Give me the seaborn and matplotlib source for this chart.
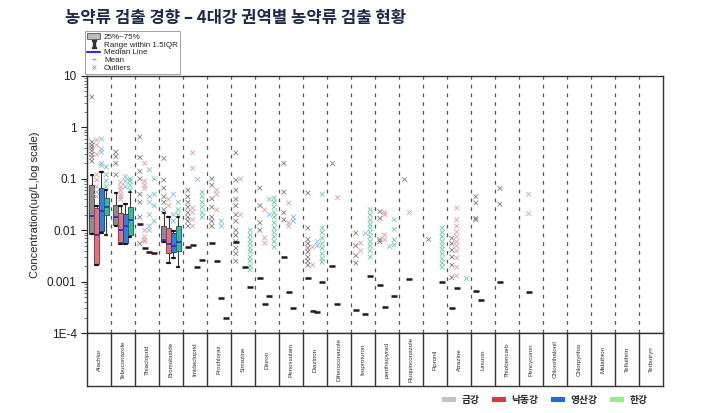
import numpy as np
import pandas as pd
import matplotlib
matplotlib.use("Agg")
import matplotlib.pyplot as plt
import matplotlib.colors as mcolors
from matplotlib.lines import Line2D
from matplotlib.patches import Patch
import matplotlib.ticker as mticker
import seaborn as sns

# ---------------- data ----------------
categories = ["Alachlor", "Tebuconazole", "Thiacloprid", "Bromobutide", "Imidacloprid",
              "Prochloraz", "Simazine", "Diuron", "Penoxsulam", "Diazinon",
              "Difenoconazole", "Isoproturon", "penthiopyrad", "Fluquinconazole",
              "Fipronil", "Atrazine", "Linuron", "Thiobencarb", "Pencycuron",
              "Chlorothalonil", "Chlorpyrifos", "Malathion", "Tefluthrin", "Terbutryn"]
rivers = ["금강", "낙동강", "영산강", "한강"]

# five-number summaries [min, q1, median, q3, max] (ug/L)
box_geum = {"Alachlor": [0.0085, 0.0086, 0.019, 0.076, 0.117],
            "Tebuconazole": [0.012, 0.0125, 0.018, 0.031, 0.052],
            "Bromobutide": [0.0058, 0.006, 0.0065, 0.012, 0.022]}
box_nakdong = {"Alachlor": [0.0021, 0.0022, 0.008, 0.027, 0.029],
               "Tebuconazole": [0.0055, 0.006, 0.01, 0.022, 0.03],
               "Bromobutide": [0.0023, 0.0036, 0.0055, 0.011, 0.018]}
box_yeongsan = {"Alachlor": [0.009, 0.0095, 0.024, 0.065, 0.135],
                "Tebuconazole": [0.0054, 0.0056, 0.012, 0.021, 0.033],
                "Bromobutide": [0.0029, 0.0038, 0.005, 0.0087, 0.0098]}
box_han = {"Alachlor": [0.008, 0.02, 0.028, 0.042, 0.06],
           "Tebuconazole": [0.0075, 0.008, 0.016, 0.028, 0.055],
           "Bromobutide": [0.0019, 0.004, 0.006, 0.012, 0.018]}

# single-value groups (drawn as short dark bars)
single_geum = {"Thiacloprid": 0.013, "Imidacloprid": 0.0047, "Prochloraz": 0.0056,
               "Simazine": 0.006, "Diuron": 0.0012, "Penoxsulam": 0.003,
               "Diazinon": 0.0012, "Difenoconazole": 0.002, "Isoproturon": 0.00028,
               "penthiopyrad": 0.00087, "Atrazine": 0.00031, "Linuron": 0.00067,
               "Thiobencarb": 0.001}
single_nakdong = {"Thiacloprid": 0.0045, "Imidacloprid": 0.0051, "Prochloraz": 0.0025,
                  "Diuron": 0.00037, "Penoxsulam": 0.00062, "Diazinon": 0.00027,
                  "Difenoconazole": 0.00037, "penthiopyrad": 0.00032,
                  "Fluquinconazole": 0.0011, "Atrazine": 0.00075, "Linuron": 0.00044,
                  "Pencycuron": 0.00062}
single_yeongsan = {"Thiacloprid": 0.0038, "Imidacloprid": 0.0019, "Prochloraz": 0.00048,
                   "Simazine": 0.0019, "Diuron": 0.00053, "Penoxsulam": 0.0003,
                   "Diazinon": 0.00026, "Isoproturon": 0.00023}
single_han = {"Thiacloprid": 0.0036, "Imidacloprid": 0.0026, "Prochloraz": 0.0002,
              "Simazine": 0.00078, "Diazinon": 0.001, "Isoproturon": 0.0013,
              "penthiopyrad": 0.00052, "Fipronil": 0.001}

# outliers
out_geum = {"Alachlor": [3.9, 0.52, 0.45, 0.4, 0.35, 0.3, 0.26, 0.22],
            "Tebuconazole": [0.33, 0.27, 0.2, 0.12],
            "Thiacloprid": [0.65, 0.26, 0.14, 0.1, 0.05, 0.035, 0.018, 0.0055],
            "Bromobutide": [0.25, 0.095, 0.066, 0.045, 0.035, 0.025],
            "Imidacloprid": [0.06, 0.045, 0.035, 0.028, 0.022, 0.018, 0.015, 0.012],
            "Prochloraz": [0.1, 0.075, 0.041, 0.028, 0.018, 0.015, 0.012],
            "Simazine": [0.32, 0.094, 0.06, 0.04, 0.03, 0.02, 0.015, 0.01, 0.008,
                         0.006, 0.0045, 0.0035, 0.0025],
            "Diuron": [0.066, 0.03, 0.014, 0.01],
            "Penoxsulam": [0.2, 0.055, 0.022, 0.016],
            "Diazinon": [0.053, 0.011, 0.0066, 0.0055, 0.0045, 0.0038, 0.003, 0.0025, 0.0021],
            "Difenoconazole": [0.2],
            "Isoproturon": [0.0088, 0.005, 0.0032, 0.0023],
            "penthiopyrad": [0.023, 0.017, 0.0066, 0.006],
            "Fluquinconazole": [0.1],
            "Fipronil": [0.0068],
            "Atrazine": [0.007, 0.0055, 0.0041, 0.003, 0.0021, 0.0012],
            "Linuron": [0.045, 0.034, 0.017, 0.016],
            "Thiobencarb": [0.065, 0.032]}
out_nakdong = {"Alachlor": [0.57, 0.45, 0.3, 0.12, 0.095, 0.07, 0.055, 0.045],
               "Tebuconazole": [0.085, 0.07, 0.06, 0.05, 0.045, 0.04],
               "Thiacloprid": [0.2, 0.09, 0.075, 0.065, 0.01, 0.0075, 0.0065, 0.006],
               "Bromobutide": [0.04, 0.03],
               "Imidacloprid": [0.32, 0.16, 0.027, 0.022, 0.016, 0.012],
               "Prochloraz": [0.06, 0.05, 0.025],
               "Simazine": [0.1, 0.02],
               "Diuron": [0.025, 0.0071, 0.0056],
               "Penoxsulam": [0.034, 0.014, 0.012],
               "Diazinon": [0.0047, 0.0021],
               "Difenoconazole": [0.045],
               "Isoproturon": [0.0056, 0.004],
               "penthiopyrad": [0.022, 0.02, 0.008, 0.0065],
               "Fluquinconazole": [0.023],
               "Atrazine": [0.027, 0.016, 0.012, 0.0093, 0.0075, 0.006, 0.005, 0.004,
                            0.0029, 0.0019, 0.0013],
               "Pencycuron": [0.05, 0.021]}
out_yeongsan = {"Alachlor": [0.6, 0.38, 0.33, 0.2, 0.18],
                "Tebuconazole": [0.11, 0.09, 0.07],
                "Thiacloprid": [0.15, 0.045, 0.035, 0.02, 0.012, 0.01],
                "Bromobutide": [0.05, 0.02, 0.015],
                "Imidacloprid": [0.1],
                "Prochloraz": [0.015, 0.012],
                "Diuron": [0.04, 0.02],
                "Penoxsulam": [0.018, 0.015],
                "Diazinon": [0.006, 0.005],
                "Isoproturon": [0.009],
                "penthiopyrad": [0.005]}
out_han = {"Alachlor": [0.17, 0.12, 0.09, 0.07],
           "Tebuconazole": [0.1, 0.09, 0.075, 0.06],
           "Thiacloprid": [0.1, 0.05, 0.03, 0.015],
           "Bromobutide": [0.035, 0.025, 0.02],
           "Imidacloprid": [0.055, 0.045, 0.035, 0.028, 0.022, 0.018],
           "Simazine": [0.01, 0.008, 0.0065, 0.0055, 0.0045, 0.0038, 0.003, 0.0025,
                        0.002, 0.0017],
           "Diuron": [0.042, 0.035, 0.028, 0.022, 0.018, 0.014, 0.011, 0.009, 0.0075,
                      0.006, 0.0047],
           "Diazinon": [0.05, 0.011, 0.009, 0.007, 0.0055, 0.0045, 0.0035, 0.0028, 0.0024],
           "Isoproturon": [0.025, 0.02, 0.016, 0.013, 0.011, 0.009, 0.0075, 0.006, 0.005,
                           0.004, 0.003],
           "penthiopyrad": [0.016, 0.0104, 0.0065, 0.0052],
           "Fipronil": [0.011, 0.009, 0.0075, 0.006, 0.005, 0.0042, 0.0035, 0.0028,
                        0.0023, 0.0019],
           "Atrazine": [0.0012]}

y_ticks = [1e-4, 1e-3, 1e-2, 1e-1, 1, 10]
y_ticklabels = ["1E-4", "0.001", "0.01", "0.1", "1", "10"]

# ---------------- styling ----------------
box_palette = {"금강": "#8c8c8c", "낙동강": "#e8707a", "영산강": "#2f7fdc", "한강": "#3cb894"}
out_palette = {"금강": "#777777", "낙동강": "#e8949b", "영산강": "#7ab6e2", "한강": "#5cc7a3"}
dash_palette = {r: "#2a1419" for r in rivers}
legend_colors = ["#c4c4c4", "#e0353c", "#1f6fd0", "#90ee90"]

sns.set_style("white")
plt.rcParams["font.family"] = ["Liberation Sans", "Noto Sans CJK KR", "DejaVu Sans"]

# ---------------- tidy frames ----------------
box_sets = dict(zip(rivers, [box_geum, box_nakdong, box_yeongsan, box_han]))
single_sets = dict(zip(rivers, [single_geum, single_nakdong, single_yeongsan, single_han]))
out_sets = dict(zip(rivers, [out_geum, out_nakdong, out_yeongsan, out_han]))

df_box = pd.DataFrame([(c, r, v) for r in rivers for c, vals in box_sets[r].items() for v in vals],
                      columns=["category", "river", "value"])
df_single = pd.DataFrame([(c, r, v) for r in rivers for c, v in single_sets[r].items()],
                         columns=["category", "river", "value"])
df_out = pd.DataFrame([(c, r, v) for r in rivers for c, vals in out_sets[r].items() for v in vals],
                      columns=["category", "river", "value"])

# ---------------- figure ----------------
fig = plt.figure(figsize=(7.2, 4.13), dpi=100)
ax = fig.add_axes([87 / 720, 1 - 333 / 413, 576 / 720, 257 / 413])
ax_t = fig.add_axes([87 / 720, 1 - 386 / 413, 576 / 720, 53 / 413])

sns.boxplot(data=df_box, x="category", y="value", hue="river", order=categories,
            hue_order=rivers, palette=box_palette, saturation=1, whis=(0, 100),
            showfliers=False, log_scale=True, width=0.8, dodge=True, linewidth=0.8,
            linecolor="#3a3a3a", legend=False, ax=ax,
            medianprops=dict(color="#4a22c8", linewidth=1.3),
            capprops=dict(color="#1e1014", linewidth=1.6))
for p in ax.patches:
    fc = p.get_facecolor()
    p.set_edgecolor(tuple(np.array(mcolors.to_rgb(fc)) * 0.6))
    p.set_linewidth(0.7)

sns.stripplot(data=df_out, x="category", y="value", hue="river", order=categories,
              hue_order=rivers, palette=out_palette, dodge=True, jitter=False,
              marker="x", size=3.4, linewidth=0.65, alpha=0.85, legend=False, ax=ax)
sns.stripplot(data=df_single, x="category", y="value", hue="river", order=categories,
              hue_order=rivers, palette=dash_palette, dodge=True, jitter=False,
              marker="_", size=5, linewidth=1.8, legend=False, ax=ax)

ax.set_yscale("log")
ax.set_ylim(1e-4, 10)
ax.set_xlim(-0.5, len(categories) - 0.5)
for i in range(len(categories) - 1):
    ax.axvline(i + 0.5, color="#555555", lw=0.9, ls=(0, (3, 4)), zorder=0)

ax.set_yticks(y_ticks)
ax.set_yticklabels(y_ticklabels)
ax.yaxis.set_minor_locator(mticker.LogLocator(base=10, subs=np.arange(2, 10)))
ax.yaxis.set_minor_formatter(mticker.NullFormatter())
ax.tick_params(axis="y", which="major", direction="out", length=4, width=0.8,
               labelsize=8.5, colors="#222222", left=True)
ax.tick_params(axis="y", which="minor", direction="out", length=2, width=0.5,
               colors="#444444", left=True)
ax.set_xticks([])
ax.set_xlabel("")
ax.set_ylabel("Concentration(ug/L,log scale)", fontsize=8, color="#222222", labelpad=5)
for s in ax.spines.values():
    s.set_color("#333333")
    s.set_linewidth(1.0)

# category table
ax_t.set_xlim(-0.5, len(categories) - 0.5)
ax_t.set_ylim(0, 1)
ax_t.set_xticks([])
ax_t.set_yticks([])
for i in range(len(categories) - 1):
    ax_t.axvline(i + 0.5, color="#333333", lw=1.0)
for i, c in enumerate(categories):
    ax_t.text(i, 0.5, c, rotation=90, ha="center", va="center", fontsize=4.5,
              color="#333333")
for s in ax_t.spines.values():
    s.set_color("#333333")
    s.set_linewidth(1.0)

# top-left legend
lh = [Patch(facecolor="#bdbdbd", edgecolor="#555555", lw=0.6),
      Line2D([], [], color="#333333", marker=r"$\mathtt{I}$", ls="none", markersize=6),
      Line2D([], [], color="#4a22c8", lw=1.5),
      Line2D([], [], color="#7fa6d8", marker="_", ls="none", markersize=3),
      Line2D([], [], color="#9a9a9a", marker="x", ls="none", markersize=3, mew=0.6)]
ll = ["25%~75%", "Range within 1.5IQR", "Median Line", "Mean", "Outliers"]
leg = ax.legend(lh, ll, loc="lower left", bbox_to_anchor=(-0.004, 1.006), fontsize=5.8,
                frameon=True, fancybox=False, edgecolor="#888888", borderpad=0.3,
                labelspacing=0.02, handlelength=1.6, handletextpad=0.5, borderaxespad=0)
leg.get_frame().set_linewidth(0.7)

# bottom legend
bh = [Patch(facecolor=c, edgecolor="none") for c in legend_colors]
fig.legend(bh, rivers, loc="center", bbox_to_anchor=(545 / 720, 1 - 400 / 413), ncol=4,
           frameon=False, handlelength=1.4, handleheight=0.45,
           columnspacing=1.3, handletextpad=0.6,
           prop={"family": ["Noto Sans CJK KR"], "size": 7, "weight": "bold"})

fig.text(65 / 720, 1 - 18 / 413, "농약류 검출 경향 – 4대강 권역별 농약류 검출 현황",
         fontsize=12, fontweight="bold", color="#1b2a4a", va="center", ha="left",
         family=["Noto Sans CJK KR", "DejaVu Sans"])

fig.savefig("out.png", dpi=100, facecolor="white")
